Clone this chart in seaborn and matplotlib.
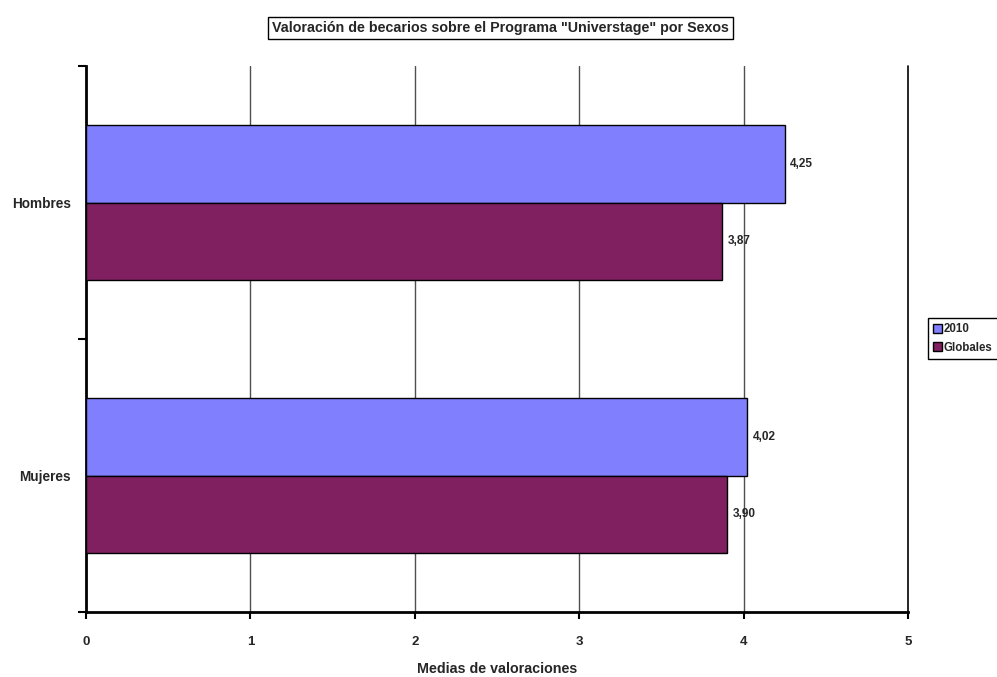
import pandas as pd
import numpy as np
import seaborn as sns
import matplotlib.pyplot as plt

# ------------ Data ----------------
sexos = ["Hombres", "Mujeres"]
series = ["2010", "Globales"]
valores_2010 = [4.25, 4.02]
valores_globales = [3.87, 3.90]
colores = ["#8080FF", "#802060"]

df = pd.DataFrame({
    "Sexo": sexos * 2,
    "Serie": [series[0]] * 2 + [series[1]] * 2,
    "Media": valores_2010 + valores_globales,
})

# ------------ Style ----------------
sns.set_style("white")
plt.rcParams["font.family"] = ["Liberation Sans", "DejaVu Sans"]
plt.rcParams["font.weight"] = "bold"

fig = plt.figure(figsize=(9.97, 6.77), dpi=100)
ax = fig.add_axes([0.0863, 0.096, 0.8244, 0.8065])

sns.barplot(data=df, y="Sexo", x="Media", hue="Serie", orient="h",
            palette=colores, saturation=1, width=0.57,
            edgecolor="black", linewidth=1, ax=ax, zorder=3)

# ------------ Axes ----------------
ax.set_xlim(0, 5)
ax.set_ylim(1.5, -0.5)
ax.set_xticks(range(0, 6))
ax.set_xticklabels([str(i) for i in range(0, 6)], fontsize=9.5, fontweight="bold")
ax.tick_params(axis="x", bottom=True, length=5, width=1.5, color="black", pad=12, direction="out")
ax.set_yticks([0, 1])
ax.set_yticklabels(sexos, fontsize=9.8, fontweight="bold")
ax.tick_params(axis="y", which="major", left=True, length=0, pad=11)
ax.set_yticks([-0.5, 0.5, 1.5], minor=True)
ax.tick_params(axis="y", which="minor", left=True, length=6, width=1.5, color="black", direction="out")

for x in range(1, 5):
    ax.axvline(x, color="#505050", linewidth=1, zorder=1)
ax.axvline(5, color="black", linewidth=1.2, zorder=1, clip_on=False)

for s in ["top", "right"]:
    ax.spines[s].set_visible(False)
for s in ["left", "bottom"]:
    ax.spines[s].set_linewidth(2)
    ax.spines[s].set_color("black")

ax.set_xlabel("Medias de valoraciones", fontsize=10.3, fontweight="bold", labelpad=10)
ax.set_ylabel("")

# ------------ Data labels ----------------
for cont in ax.containers:
    ax.bar_label(cont, labels=[f"{v:.2f}".replace(".", ",") for v in cont.datavalues],
                 padding=4, fontsize=8.5, fontweight="bold")

# ------------ Title ----------------
fig.text(0.502, 0.9586, 'Valoración de becarios sobre el Programa "Universtage" por Sexos',
         ha="center", va="center", fontsize=10.3, fontweight="bold",
         bbox=dict(boxstyle="square,pad=0.25", facecolor="white", edgecolor="black", linewidth=1))

# ------------ Legend ----------------
ax.legend_.remove()
handles = [plt.Rectangle((0, 0), 1, 1, facecolor=c, edgecolor="black", linewidth=1) for c in colores]
leg = fig.legend(handles, series, loc="center left", bbox_to_anchor=(0.928, 0.5),
                 bbox_transform=fig.transFigure, fancybox=False, edgecolor="black",
                 handlelength=0.8, handleheight=0.8, handletextpad=0.15,
                 borderpad=0.45, labelspacing=0.55, framealpha=1, borderaxespad=0.2,
                 prop={"size": 8.3, "weight": "bold"})
leg.get_frame().set_linewidth(1)

fig.savefig("out.png", dpi=100)
